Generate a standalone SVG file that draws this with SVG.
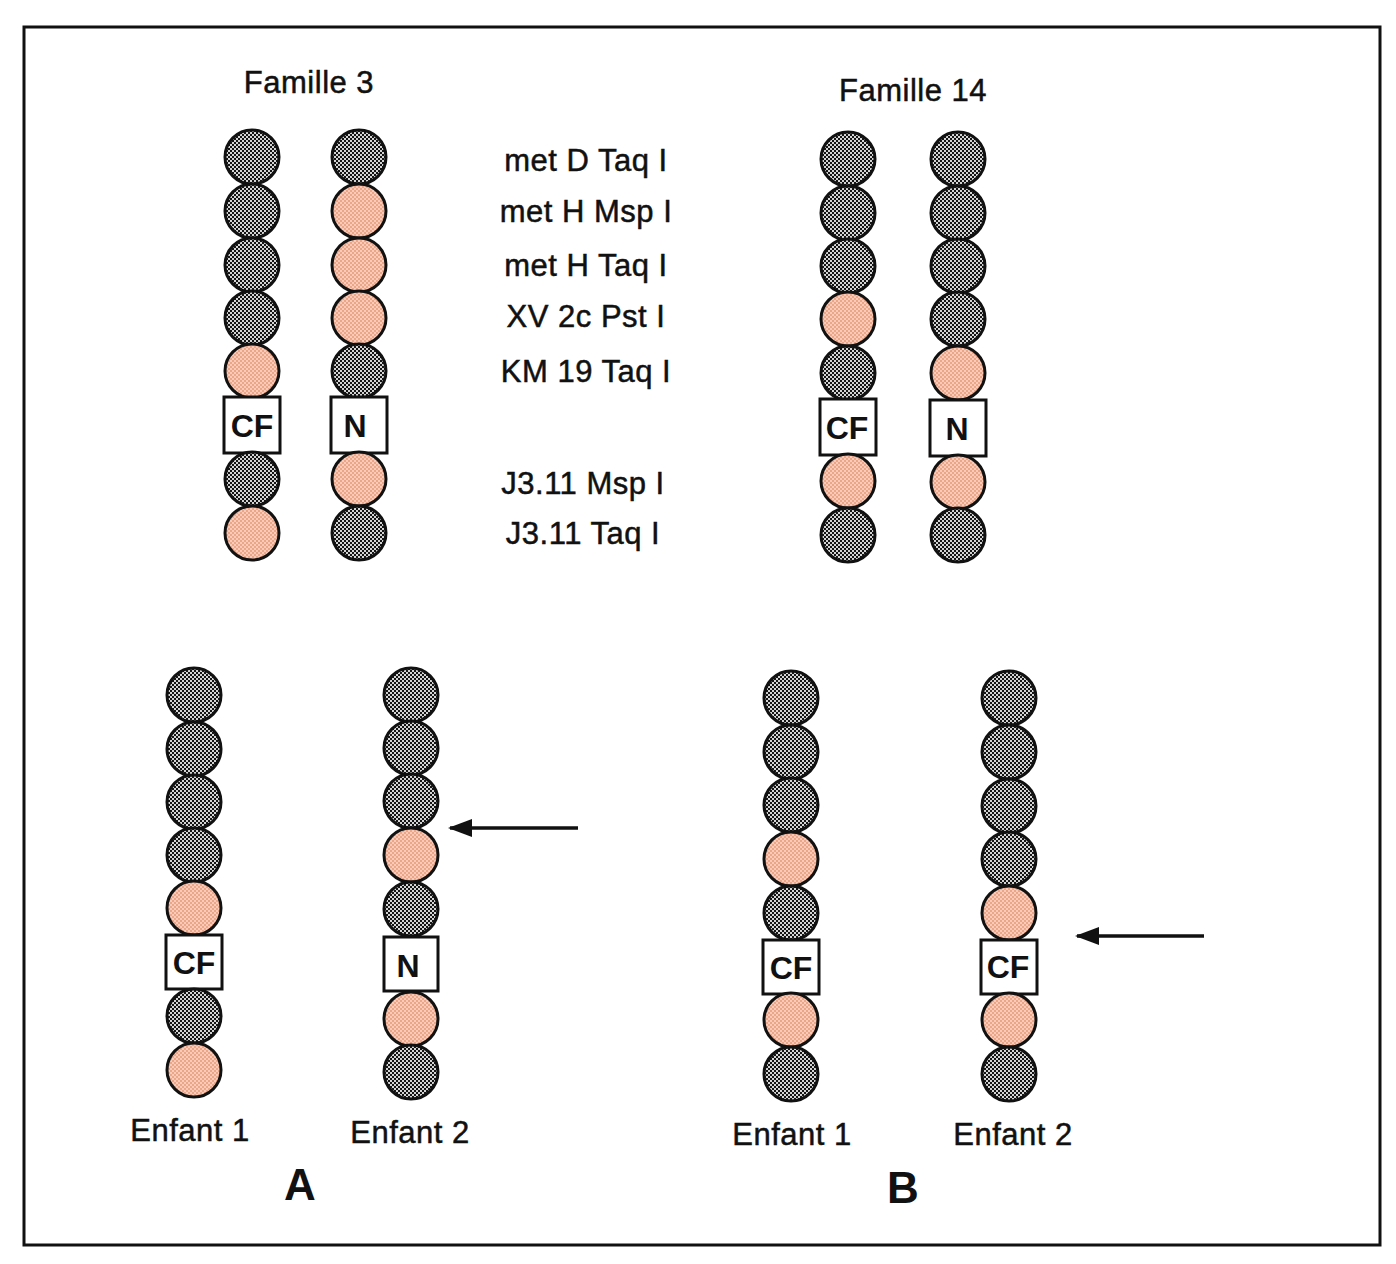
<svg xmlns="http://www.w3.org/2000/svg" width="1396" height="1264" viewBox="0 0 1396 1264">
<defs>
<pattern id="dots" width="4" height="4" patternUnits="userSpaceOnUse">
<rect width="4" height="4" fill="#d4d4d4"/>
<rect width="2" height="2" fill="#141414"/>
<rect x="2" y="2" width="2" height="2" fill="#141414"/>
</pattern>
<pattern id="pinkdots" width="4" height="4" patternUnits="userSpaceOnUse">
<rect width="4" height="4" fill="#f7cbb8"/>
<rect width="2" height="2" fill="#eba68a"/>
<rect x="2" y="2" width="2" height="2" fill="#eba68a"/>
</pattern>
<marker id="ah" viewBox="0 0 24 18" refX="22" refY="9" markerWidth="24" markerHeight="18" markerUnits="userSpaceOnUse" orient="auto">
<path d="M0,0 L24,9 L0,18 Z" fill="#111"/>
</marker>
</defs>
<style>
.g{fill:url(#dots);stroke:#111;stroke-width:3}
.p{fill:url(#pinkdots);stroke:#111;stroke-width:3}
.box{fill:#fff;stroke:#111;stroke-width:3}
.bt{font-family:"Liberation Sans",Arial,sans-serif;font-weight:bold;font-size:32px;fill:#111;text-anchor:middle}
.t{font-family:"Liberation Sans",Arial,sans-serif;font-size:31px;letter-spacing:0.5px;fill:#111;stroke:#111;stroke-width:0.5;text-anchor:middle}
.big{font-family:"Liberation Sans",Arial,sans-serif;font-weight:bold;font-size:44px;fill:#111;text-anchor:middle}
.arr{stroke:#111;stroke-width:3.5;fill:none}
</style>
<rect x="24" y="27" width="1356" height="1218" fill="#fff" stroke="#111" stroke-width="3"/>

<text class="t" x="309" y="93">Famille 3</text>
<text class="t" x="913" y="101">Famille 14</text>

<g id="markers">
<text class="t" x="586" y="171">met D Taq I</text>
<text class="t" x="586" y="222">met H Msp I</text>
<text class="t" x="586" y="276">met H Taq I</text>
<text class="t" x="586" y="327">XV 2c Pst I</text>
<text class="t" x="586" y="382">KM 19 Taq I</text>
<text class="t" x="583" y="494">J3.11 Msp I</text>
<text class="t" x="583" y="544">J3.11 Taq I</text>
</g>

<g id="f3-cf">
<circle class="g" cx="252" cy="157" r="27"/>
<circle class="g" cx="252" cy="211" r="27"/>
<circle class="g" cx="252" cy="265" r="27"/>
<circle class="g" cx="252" cy="318" r="27"/>
<circle class="p" cx="252" cy="371" r="27"/>
<rect class="box" x="224" y="397" width="56" height="56"/>
<text class="bt" x="252" y="437">CF</text>
<circle class="g" cx="252" cy="479" r="27"/>
<circle class="p" cx="252" cy="533" r="27"/>
</g>

<g id="f3-n">
<circle class="g" cx="359" cy="157" r="27"/>
<circle class="p" cx="359" cy="211" r="27"/>
<circle class="p" cx="359" cy="265" r="27"/>
<circle class="p" cx="359" cy="318" r="27"/>
<circle class="g" cx="359" cy="371" r="27"/>
<rect class="box" x="331" y="397" width="56" height="56"/>
<text class="bt" x="355" y="437">N</text>
<circle class="p" cx="359" cy="479" r="27"/>
<circle class="g" cx="359" cy="533" r="27"/>
</g>

<g id="f14-cf">
<circle class="g" cx="848" cy="159" r="27"/>
<circle class="g" cx="848" cy="213" r="27"/>
<circle class="g" cx="848" cy="266" r="27"/>
<circle class="p" cx="848" cy="319" r="27"/>
<circle class="g" cx="848" cy="373" r="27"/>
<rect class="box" x="820" y="399" width="56" height="56"/>
<text class="bt" x="847" y="439">CF</text>
<circle class="p" cx="848" cy="481" r="27"/>
<circle class="g" cx="848" cy="535" r="27"/>
</g>

<g id="f14-n">
<circle class="g" cx="958" cy="159" r="27"/>
<circle class="g" cx="958" cy="213" r="27"/>
<circle class="g" cx="958" cy="266" r="27"/>
<circle class="g" cx="958" cy="319" r="27"/>
<circle class="p" cx="958" cy="373" r="27"/>
<rect class="box" x="930" y="400" width="56" height="56"/>
<text class="bt" x="957" y="440">N</text>
<circle class="p" cx="958" cy="482" r="27"/>
<circle class="g" cx="958" cy="535" r="27"/>
</g>

<g id="a-enfant1">
<circle class="g" cx="194" cy="695" r="27"/>
<circle class="g" cx="194" cy="749" r="27"/>
<circle class="g" cx="194" cy="802" r="27"/>
<circle class="g" cx="194" cy="855" r="27"/>
<circle class="p" cx="194" cy="908" r="27"/>
<rect class="box" x="166" y="935" width="56" height="54"/>
<text class="bt" x="194" y="974">CF</text>
<circle class="g" cx="194" cy="1016" r="27"/>
<circle class="p" cx="194" cy="1070" r="27"/>
<text class="t" x="190" y="1141">Enfant 1</text>
</g>

<g id="a-enfant2">
<circle class="g" cx="411" cy="695" r="27"/>
<circle class="g" cx="411" cy="748" r="27"/>
<circle class="g" cx="411" cy="801" r="27"/>
<circle class="p" cx="411" cy="855" r="27"/>
<circle class="g" cx="411" cy="909" r="27"/>
<rect class="box" x="384" y="937" width="54" height="54"/>
<text class="bt" x="408" y="977">N</text>
<circle class="p" cx="411" cy="1019" r="27"/>
<circle class="g" cx="411" cy="1072" r="27"/>
<text class="t" x="410" y="1143">Enfant 2</text>
</g>

<g id="b-enfant1">
<circle class="g" cx="791" cy="698" r="27"/>
<circle class="g" cx="791" cy="752" r="27"/>
<circle class="g" cx="791" cy="805" r="27"/>
<circle class="p" cx="791" cy="859" r="27"/>
<circle class="g" cx="791" cy="913" r="27"/>
<rect class="box" x="763" y="940" width="56" height="54"/>
<text class="bt" x="791" y="979">CF</text>
<circle class="p" cx="791" cy="1020" r="27"/>
<circle class="g" cx="791" cy="1074" r="27"/>
<text class="t" x="792" y="1145">Enfant 1</text>
</g>

<g id="b-enfant2">
<circle class="g" cx="1009" cy="698" r="27"/>
<circle class="g" cx="1009" cy="752" r="27"/>
<circle class="g" cx="1009" cy="806" r="27"/>
<circle class="g" cx="1009" cy="859" r="27"/>
<circle class="p" cx="1009" cy="913" r="27"/>
<rect class="box" x="981" y="940" width="56" height="54"/>
<text class="bt" x="1008" y="978">CF</text>
<circle class="p" cx="1009" cy="1020" r="27"/>
<circle class="g" cx="1009" cy="1074" r="27"/>
<text class="t" x="1013" y="1145">Enfant 2</text>
</g>

<g id="connectors">
<line class="arr" x1="578" y1="828" x2="450" y2="828" marker-end="url(#ah)"/>
<line class="arr" x1="1204" y1="936" x2="1077" y2="936" marker-end="url(#ah)"/>
</g>

<text class="big" x="300" y="1200">A</text>
<text class="big" x="903" y="1203">B</text>
</svg>
